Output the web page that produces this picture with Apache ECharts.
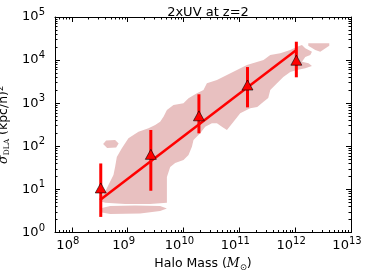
<!DOCTYPE html>
<html><head><meta charset="utf-8">
<script src="https://cdn.jsdelivr.net/npm/echarts@6/dist/echarts.min.js"></script>
<style>html,body{margin:0;padding:0;background:#fff}#c{width:374px;height:274px}</style>
</head><body><div id="c"></div>
<script>
// ---- data ----
const titleText = '2xUV at z=2';
const X_MIN = 5e7, X_MAX = 1e13;
const Y_MIN = 1, Y_MAX = 1e5;
const xMajorTicks = [1e8, 1e9, 1e10, 1e11, 1e12, 1e13];
const yMajorTicks = [1, 10, 100, 1000, 1e4, 1e5];

// binned points (halo mass, sigma_DLA) with error range
const pointMass = [3.3e8, 2.6e9, 1.89e10, 1.40e11, 1.05e12];
const pointSigma = [10.8, 65, 510, 2640, 9950];
const errLow = [2.3, 9.3, 200, 800, 3990];
const errHigh = [40, 239, 1610, 6900, 26700];

// fitted line end points
const fitMass = [3.2e8, 1.05e12];
const fitSigma = [5.7, 17100];

// shaded contour outlines, [log10 mass, log10 sigma]
const contourMain = [
 [8.538,0.715],[8.538,0.847],[8.597,0.947],[8.656,1.102],[8.746,1.334],[8.776,1.527],
 [8.806,1.752],[8.896,1.954],[8.955,2.070],[9.014,2.186],[9.194,2.339],[9.373,2.418],
 [9.493,2.494],[9.582,2.571],[9.642,2.687],[9.703,2.842],[9.821,2.958],[10.0,2.998],
 [10.09,3.114],[10.24,3.230],[10.358,3.306],[10.419,3.462],[10.599,3.538],[10.778,3.654],
 [10.957,3.770],[11.136,3.886],[11.434,4.002],[11.554,4.118],[11.733,4.158],[11.912,4.234],
 [12.032,4.311],[12.122,4.350],[12.181,4.274],[12.301,4.195],[12.271,4.118],[12.181,4.072],
 [12.122,3.963],[12.240,3.926],[12.301,3.863],[12.181,3.810],[12.032,3.770],[11.912,3.724],
 [11.787,3.608],[11.679,3.469],[11.554,3.306],[11.518,3.121],[11.428,3.028],[11.321,2.912],
 [11.195,2.882],[11.016,2.766],[10.896,2.571],[10.778,2.378],[10.688,2.455],[10.599,2.534],
 [10.509,2.534],[10.389,2.455],[10.299,2.302],[10.179,2.146],[10.151,1.991],[10.090,1.798],
 [10.0,1.682],[9.851,1.613],[9.762,1.520],[9.703,1.288],[9.703,0.690],[9.403,0.660],
 [8.955,0.660],[8.597,0.690]
];
const contourBand = [
 [8.538,0.568],[8.686,0.615],[9.134,0.626],[9.582,0.615],[9.703,0.557],[9.582,0.499],
 [9.224,0.441],[8.686,0.429],[8.538,0.464]
];
const contourBlobLeft = [
 [8.561,2.053],[8.615,2.135],[8.776,2.146],[8.839,2.065],[8.794,1.972],[8.633,1.961]
];
const contourBlobRight = [
 [12.235,4.390],[12.611,4.390],[12.611,4.334],[12.450,4.195],[12.360,4.234],[12.235,4.334]
];

// ---- build ----
function minorTicks(lo, hi) {
  const out = [];
  for (let e = Math.floor(Math.log10(lo)); e < Math.ceil(Math.log10(hi)); e++) {
    for (let m = 2; m <= 9; m++) {
      const v = m * Math.pow(10, e);
      if (v > lo && v < hi) out.push(v);
    }
  }
  return out;
}
const xMinor = minorTicks(X_MIN, X_MAX);
const yMinor = minorTicks(Y_MIN, Y_MAX);

const FONT = 'DejaVu Sans';
const richTickY = {
  b: { fontSize: 13, fontFamily: FONT, color: '#000' },
  s: { fontSize: 10, fontFamily: FONT, color: '#000', padding: [0, 0, 9, 0] }
};
const richTickX = {
  b: { fontSize: 13, fontFamily: FONT, color: '#000' },
  s: { fontSize: 10, fontFamily: FONT, color: '#000', padding: [0, 8, 9, 0] }
};
function powLabel(v) {
  const e = Math.round(Math.log10(v));
  return '{b|10}{s|' + e + '}';
}
const black = { color: '#000', width: 1 };

function majorAxis(pos, min, max, ticks, extra) {
  return Object.assign({
    type: 'log', logBase: 10, min: min, max: max, position: pos,
    axisLine: { show: true, lineStyle: black },
    axisTick: { show: true, inside: true, length: 5, customValues: ticks, lineStyle: black },
    axisLabel: { show: false },
    splitLine: { show: false }, minorTick: { show: false }
  }, extra || {});
}
function minorAxis(pos, min, max, ticks) {
  return {
    type: 'log', logBase: 10, min: min, max: max, position: pos,
    axisLine: { show: false },
    axisTick: { show: true, inside: true, length: 2.5, customValues: ticks, lineStyle: black },
    axisLabel: { show: false }, splitLine: { show: false }
  };
}
function toVal(pts) { return pts.map(p => [Math.pow(10, p[0]), Math.pow(10, p[1])]); }

function polySeries(pts) {
  const vals = toVal(pts);
  return {
    type: 'custom', coordinateSystem: 'cartesian2d', xAxisIndex: 0, yAxisIndex: 0,
    silent: true, z: 1, clip: false,
    data: [vals[0]],
    renderItem: function (params, api) {
      return { type: 'polygon', shape: { points: vals.map(v => api.coord(v)) },
               style: { fill: '#e8c0c0', stroke: null } };
    }
  };
}

const errData = pointMass.map((m, i) => [m, errLow[i], errHigh[i]]);
const option = {
  animation: false,
  backgroundColor: '#fff',
  title: { text: titleText, left: 203, top: 1, textAlign: 'center',
    textStyle: { fontFamily: FONT, fontSize: 13, fontWeight: 'normal', color: '#000' } },
  grid: { left: 55, right: 23, top: 17, bottom: 41.5, containLabel: false, outerBoundsMode: 'none' },
  xAxis: [
    majorAxis('bottom', X_MIN, X_MAX, xMajorTicks, {
      axisLabel: { show: true, customValues: xMajorTicks, formatter: powLabel, rich: richTickX, margin: 4 },
      name: '{n|Halo Mass (}{i|M}{d|⊙}{n|)}', nameLocation: 'middle', nameGap: 23,
      nameTextStyle: { rich: {
        n: { fontFamily: FONT, fontSize: 12.5, color: '#000' },
        i: { fontFamily: 'DejaVu Serif', fontStyle: 'italic', fontSize: 12.5, color: '#000' },
        d: { fontFamily: FONT, fontSize: 8.5, color: '#000', padding: [7, 0, 0, 0] } } }
    }),
    minorAxis('bottom', X_MIN, X_MAX, xMinor),
    majorAxis('top', X_MIN, X_MAX, xMajorTicks),
    minorAxis('top', X_MIN, X_MAX, xMinor)
  ],
  yAxis: [
    majorAxis('left', Y_MIN, Y_MAX, yMajorTicks, {
      axisLabel: { show: true, customValues: yMajorTicks, formatter: powLabel, rich: richTickY, margin: 10 },
      name: '{i|σ}{d|DLA}{n| (kpc/h)}{s|2}', nameLocation: 'middle', nameGap: 33, nameRotate: 90,
      nameTextStyle: { rich: {
        n: { fontFamily: FONT, fontSize: 12.5, color: '#000' },
        i: { fontFamily: 'DejaVu Serif', fontStyle: 'italic', fontSize: 12.5, color: '#000' },
        d: { fontFamily: 'DejaVu Serif', fontSize: 7.5, color: '#000', padding: [6, 0, 0, 0] },
        s: { fontFamily: FONT, fontSize: 8.5, color: '#000', padding: [0, 0, 7, 0] } } }
    }),
    minorAxis('left', Y_MIN, Y_MAX, yMinor),
    majorAxis('right', Y_MIN, Y_MAX, yMajorTicks),
    minorAxis('right', Y_MIN, Y_MAX, yMinor)
  ],
  series: [
    polySeries(contourMain),
    polySeries(contourBand),
    polySeries(contourBlobLeft),
    polySeries(contourBlobRight),
    {
      type: 'custom', coordinateSystem: 'cartesian2d', xAxisIndex: 0, yAxisIndex: 0, z: 2, silent: true,
      data: errData, encode: { x: 0, y: [1, 2] },
      renderItem: function (params, api) {
        const a = api.coord([api.value(0), api.value(1)]);
        const b = api.coord([api.value(0), api.value(2)]);
        return { type: 'line', shape: { x1: a[0], y1: a[1], x2: b[0], y2: b[1] },
                 style: { stroke: '#ff0000', lineWidth: 3 } };
      }
    },
    {
      type: 'line', xAxisIndex: 0, yAxisIndex: 0, z: 3, silent: true, showSymbol: false, symbol: 'none',
      data: fitMass.map((m, i) => [m, fitSigma[i]]),
      lineStyle: { color: '#ff0000', width: 2.5 }
    },
    {
      type: 'scatter', xAxisIndex: 0, yAxisIndex: 0, z: 4, silent: true,
      symbol: 'triangle', symbolSize: [11, 10],
      data: pointMass.map((m, i) => [m, pointSigma[i]]),
      itemStyle: { color: '#ff0000', borderColor: '#000', borderWidth: 0.6, opacity: 1 }
    }
  ]
};
const chart = echarts.init(document.getElementById('c'), null, { renderer: 'canvas' });
chart.setOption(option);
</script>
</body></html>
